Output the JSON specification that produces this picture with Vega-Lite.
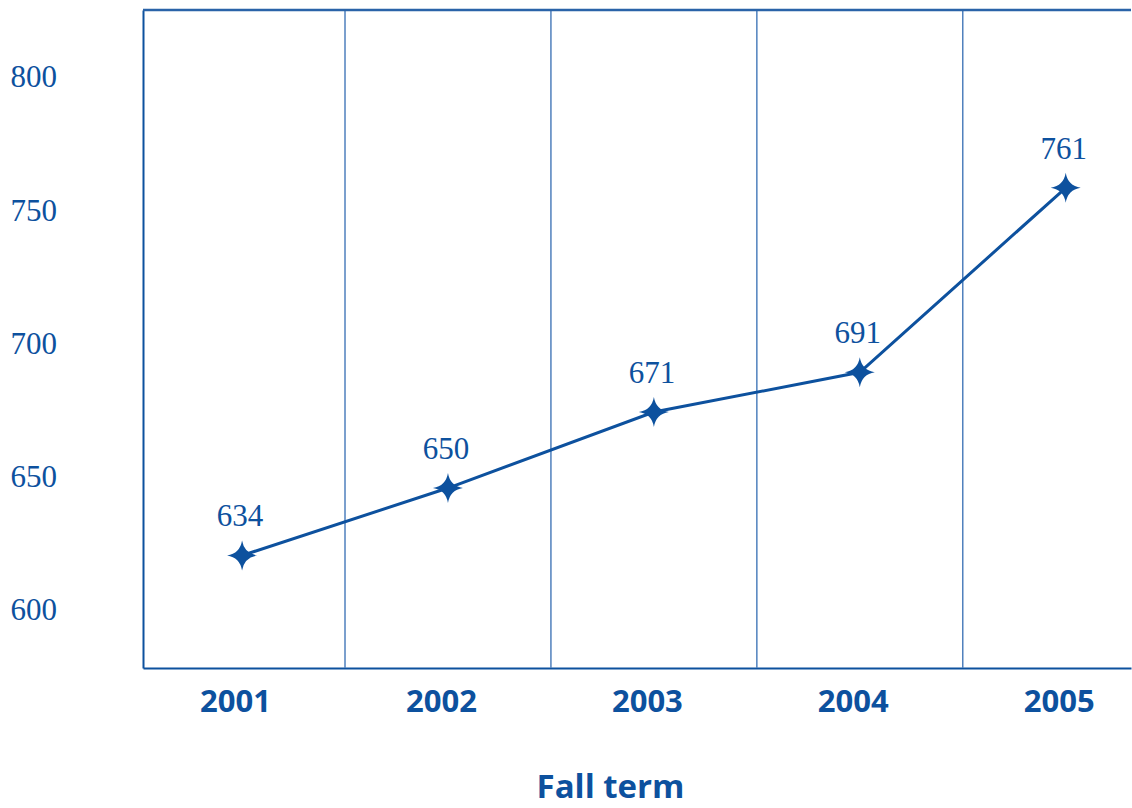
{
  "$schema": "https://vega.github.io/schema/vega-lite/v6.json",
  "width": 988,
  "height": 658,
  "autosize": {"type": "none"},
  "padding": {"left": 143, "top": 10, "right": 1, "bottom": 140},
  "background": "white",
  "config": {"view": {"stroke": null}},
  "data": {
    "values": [
      {"year": 2001, "value": 620.8, "label": "634"},
      {"year": 2002, "value": 646.1, "label": "650"},
      {"year": 2003, "value": 674.6, "label": "671"},
      {"year": 2004, "value": 689.5, "label": "691"},
      {"year": 2005, "value": 758.7, "label": "761"}
    ]
  },
  "encoding": {
    "x": {
      "field": "year",
      "type": "quantitative",
      "scale": {"domain": [2000.519, 2005.317], "nice": false, "zero": false},
      "axis": {
        "values": [2001, 2002, 2003, 2004, 2005],
        "format": "d",
        "grid": false,
        "ticks": false,
        "tickSize": 0,
        "domain": true,
        "domainColor": "#0d519e",
        "domainWidth": 2,
        "labelFont": "Open Sans",
        "labelFontWeight": "bold",
        "labelFontSize": 31,
        "labelColor": "#0d519e",
        "labelPadding": 19,
        "labelOffset": -7,
        "title": "Fall term",
        "titleFont": "Open Sans",
        "titleFontWeight": "bold",
        "titleFontSize": 33,
        "titleColor": "#0d519e",
        "titleX": 467,
        "titleY": 129,
        "titleAlign": "center",
        "titleBaseline": "alphabetic"
      }
    },
    "y": {
      "field": "value",
      "type": "quantitative",
      "scale": {"domain": [578.6, 825.4], "nice": false, "zero": false},
      "axis": {
        "values": [600, 650, 700, 750, 800],
        "grid": false,
        "ticks": false,
        "tickSize": 0,
        "domain": true,
        "domainColor": "#0d519e",
        "domainWidth": 2,
        "labelFont": "Liberation Serif",
        "labelFontSize": 31,
        "labelColor": "#0d519e",
        "labelAlign": "left",
        "labelBaseline": "middle",
        "labelPadding": 133,
        "title": null
      }
    }
  },
  "layer": [
    {
      "data": {"values": [{"g": 2001.5}, {"g": 2002.5}, {"g": 2003.5}, {"g": 2004.5}]},
      "mark": {"type": "rule", "color": "#4f80bd", "strokeWidth": 1.5},
      "encoding": {
        "x": {"field": "g", "type": "quantitative"},
        "y": null
      }
    },
    {
      "data": {"values": [{"top": 825.4}]},
      "mark": {"type": "rule", "color": "#2a63a8", "strokeWidth": 2.5},
      "encoding": {
        "x": null,
        "y": {"field": "top", "type": "quantitative"}
      }
    },
    {
      "mark": {"type": "line", "color": "#0d519e", "strokeWidth": 3}
    },
    {
      "mark": {
        "type": "point",
        "shape": "M0,-1 Q0.14,-0.14 1,0 Q0.14,0.14 0,1 Q-0.14,0.14 -1,0 Q-0.14,-0.14 0,-1 Z",
        "size": 900,
        "filled": true,
        "color": "#0d519e",
        "opacity": 1
      }
    },
    {
      "mark": {
        "type": "text",
        "font": "Liberation Serif",
        "fontSize": 31,
        "color": "#0d519e",
        "align": "center",
        "baseline": "alphabetic",
        "dy": -29,
        "dx": -2
      },
      "encoding": {"text": {"field": "label"}}
    }
  ]
}
